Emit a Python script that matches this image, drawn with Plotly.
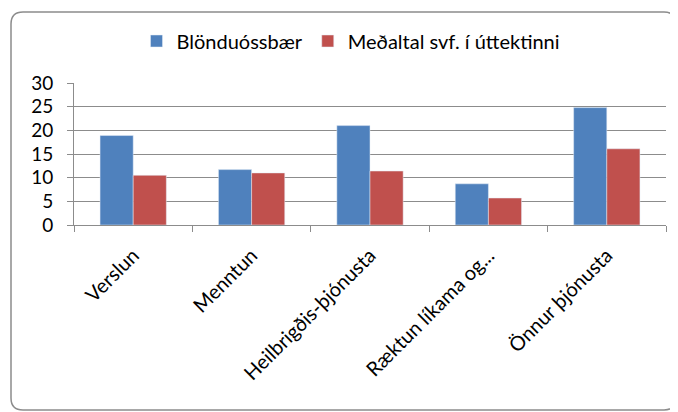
import plotly.graph_objects as go

categories = ["Verslun", "Menntun", "Heilbrigðis-þjónusta", "Ræktun líkama og...", "Önnur þjónusta"]
blonduos = [18.9, 11.7, 21.0, 8.7, 24.8]
medaltal = [10.5, 11.0, 11.4, 5.7, 16.1]
series_names = ["Blönduóssbær", "Meðaltal svf. í úttektinni"]
y_ticks = [0, 5, 10, 15, 20, 25, 30]

# page body has an 8px margin; work in screen pixels and shift
OFF = 8
W, H = 678 - OFF, 412 - OFF
L, R, T, B = 74 - OFF, 678 - 666, 83 - OFF, 412 - 225
pw, ph = W - L - R, H - T - B

def px(sx):
    return (sx - OFF - L) / pw

def py(sy):
    return (H - B - (sy - OFF)) / ph

fig = go.Figure()
fig.add_trace(go.Bar(x=categories, y=blonduos, name=series_names[0], marker_color="#4F81BD"))
fig.add_trace(go.Bar(x=categories, y=medaltal, name=series_names[1], marker_color="#C0504D"))

# rounded border (screen pixels)
x0, x1, y0, y1, r = 11, 676, 12, 410, 12
path = (
    f"M {px(x0+r)},{py(y0)} L {px(x1-r)},{py(y0)} Q {px(x1)},{py(y0)} {px(x1)},{py(y0+r)} "
    f"L {px(x1)},{py(y1-r)} Q {px(x1)},{py(y1)} {px(x1-r)},{py(y1)} "
    f"L {px(x0+r)},{py(y1)} Q {px(x0)},{py(y1)} {px(x0)},{py(y1-r)} "
    f"L {px(x0)},{py(y0+r)} Q {px(x0)},{py(y0)} {px(x0+r)},{py(y0)} Z"
)

fig.update_layout(
    width=W, height=H,
    margin=dict(l=L, r=R, t=T, b=B, autoexpand=False),
    paper_bgcolor="white", plot_bgcolor="white",
    font=dict(family="Lato", size=20, color="#000000"),
    barmode="group", bargap=0.44, bargroupgap=0,
    showlegend=True,
    legend=dict(orientation="h", x=px(351), xanchor="center", y=py(41), yanchor="middle",
                font=dict(size=20), itemwidth=30, bgcolor="rgba(0,0,0,0)"),
    shapes=[dict(type="path", path=path, xref="paper", yref="paper",
                 line=dict(color="#8c8c8c", width=1.5), layer="below")],
)
fig.update_xaxes(showline=True, linecolor="#8c8c8c", linewidth=1, ticks="outside",
                 tickson="boundaries", ticklen=6, tickcolor="#8c8c8c", tickangle=-45,
                 showgrid=False, tickfont=dict(size=20), ticklabelstandoff=10)
fig.update_yaxes(range=[0, 30], tickvals=y_ticks, showline=True, linecolor="#8c8c8c",
                 linewidth=1, ticks="outside", ticklen=6, tickcolor="#8c8c8c",
                 showgrid=True, gridcolor="#8c8c8c", gridwidth=1, zeroline=False,
                 ticklabelstandoff=10, tickfont=dict(size=19))

fig.write_html("out.html")
